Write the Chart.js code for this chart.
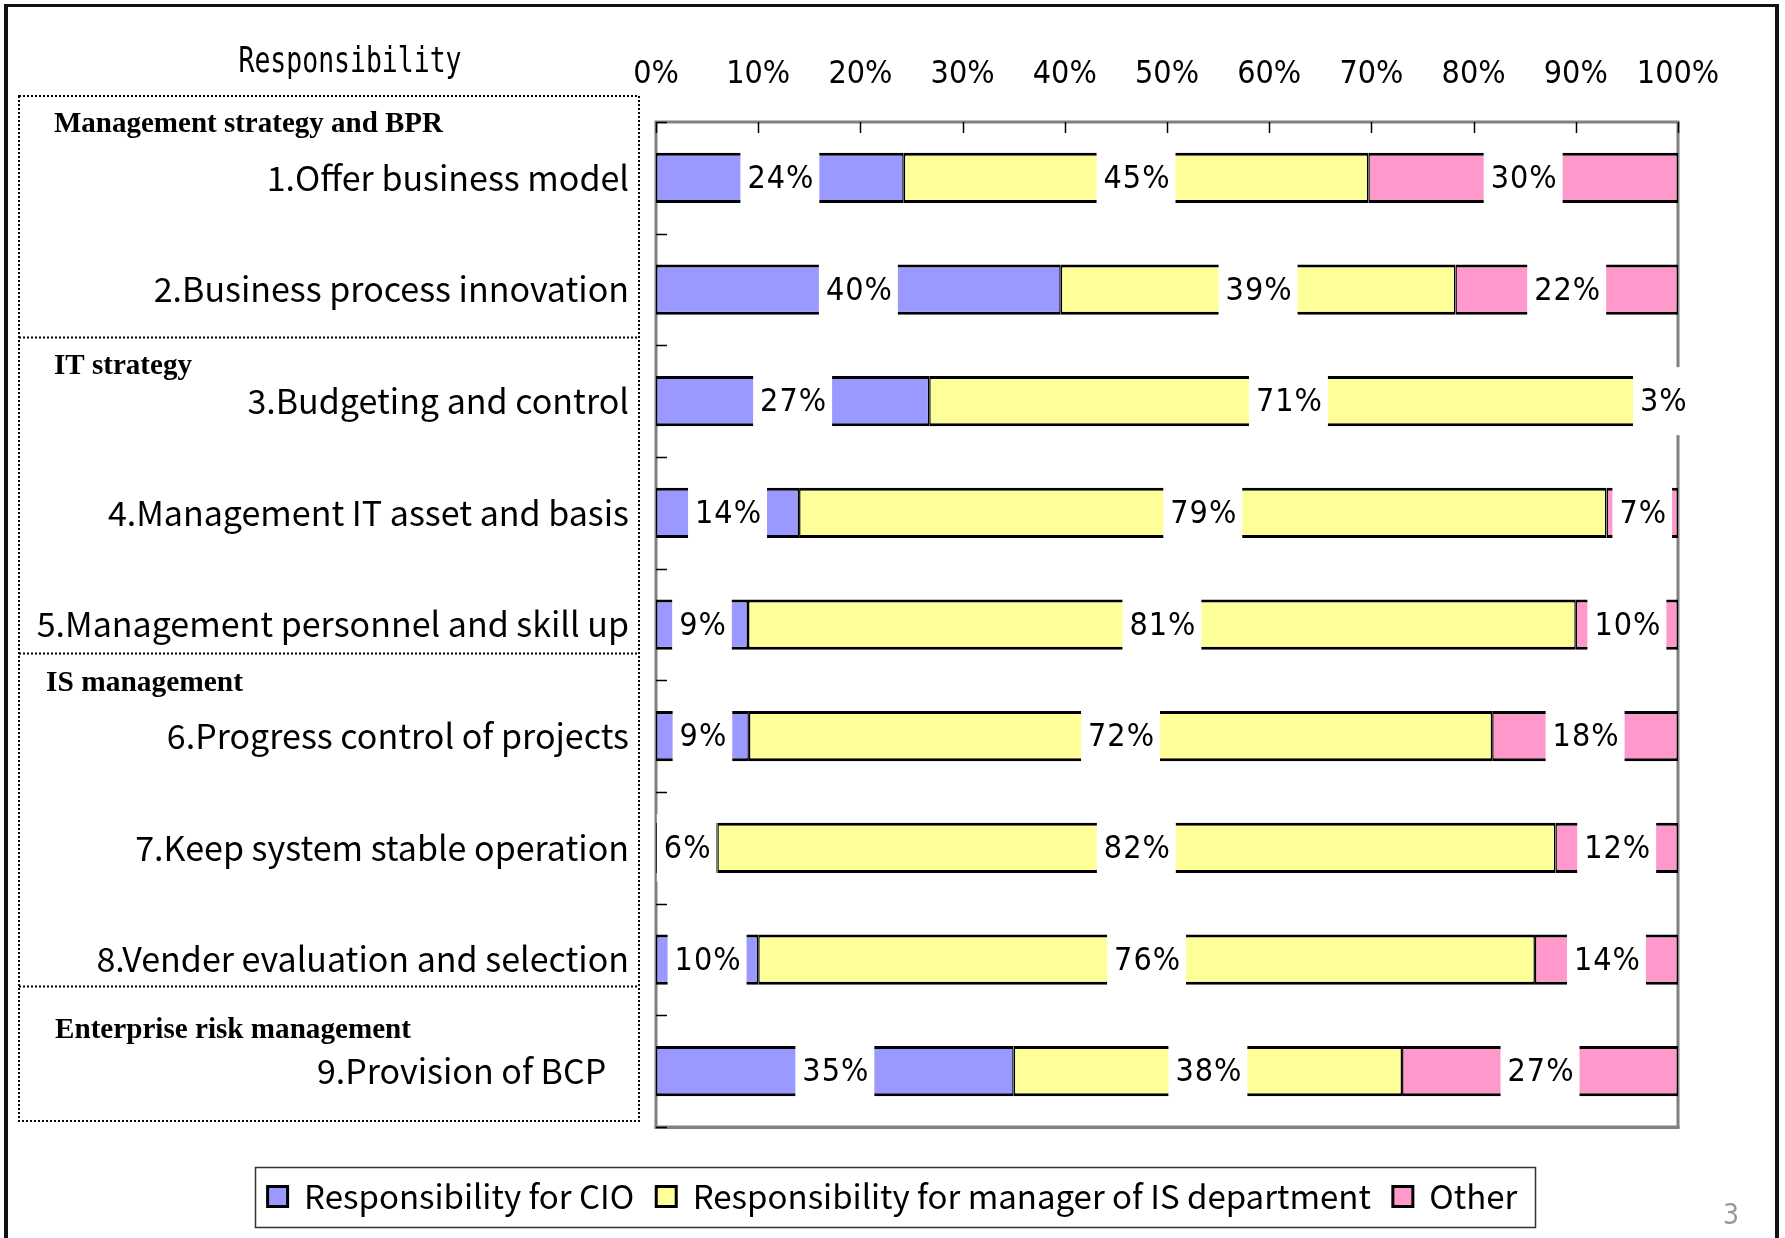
<!DOCTYPE html>
<html>
<head>
<meta charset="utf-8">
<script src="https://cdn.jsdelivr.net/npm/chart.js@4.4.1/dist/chart.umd.min.js"></script>
<style>
    html, body { margin: 0; padding: 0; background: #fff; }
    canvas { display: block; }
</style>
</head>
<body>
<canvas id="chart" width="1785" height="1238"></canvas>
<script>
// ─── DATA ────────────────────────────────────────────────────
const categories = [
    '1.Offer business model',
    '2.Business process innovation',
    '3.Budgeting and control',
    '4.Management IT asset and basis',
    '5.Management personnel and skill up',
    '6.Progress control of projects',
    '7.Keep system stable operation',
    '8.Vender evaluation and selection',
    '9.Provision of BCP   ',
];
const cioValues   = [24, 40, 27, 14,  9,  9,  6, 10, 35];
const isMgrValues = [45, 39, 71, 79, 81, 72, 82, 76, 38];
const otherValues = [30, 22,  3,  7, 10, 18, 12, 14, 27];
const seriesNames = [
    'Responsibility for CIO',
    'Responsibility for manager of IS department',
    'Other',
];
const xTicks = [0, 10, 20, 30, 40, 50, 60, 70, 80, 90, 100];

// group headers in the left box
const groupNames = ['Management strategy and BPR', 'IT strategy', 'IS management', 'Enterprise risk management'];

// ─── STYLE ───────────────────────────────────────────────────
const NARROW = "'DejaVu Sans Condensed', 'DejaVu Sans', sans-serif";
const GOTHIC = "'Noto Sans CJK JP', 'Noto Sans', sans-serif";
const SERIF  = "'Liberation Serif', 'DejaVu Serif', serif";
const COLORS = ['#9999ff', '#ffff99', '#ff99cc'];

// 100% stacked: each row is scaled to its own total
const totals = categories.map((_, i) => cioValues[i] + isMgrValues[i] + otherValues[i]);
const share  = arr => arr.map((v, i) => v * 100 / totals[i]);

// ─── PLUGINS ─────────────────────────────────────────────────

// plot frame + inward tick marks
const plotFrame = {
    id: 'plotFrame',
    beforeDatasetsDraw(chart) {
        const { ctx, chartArea: a, scales: { x, y } } = chart;
        ctx.save();
        ctx.strokeStyle = '#808080';
        ctx.lineWidth = 3;
        ctx.strokeRect(a.left, a.top, a.right - a.left, a.bottom - a.top);
        ctx.fillStyle = '#808080';
        ctx.fillRect(a.left - 1.5, a.bottom - 1, a.right - a.left + 3, 3);

        ctx.strokeStyle = '#000';
        ctx.lineWidth = 1.5;
        ctx.beginPath();
        xTicks.forEach(v => {
            const px = Math.round(x.getPixelForValue(v)) + 0.5;
            ctx.moveTo(px, a.top);
            ctx.lineTo(px, a.top + 11);
        });
        const band = (a.bottom - a.top) / categories.length;
        for (let i = 0; i <= categories.length; i++) {
            const py = Math.round(y.getPixelForValue(0) - band / 2 + i * band) + 0.5;
            ctx.moveTo(a.left, py);
            ctx.lineTo(a.left + 11, py);
        }
        ctx.stroke();
        ctx.restore();
    },
};

// Excel-like data labels on white boxes, centred in each segment
const labelBoxes = {
    id: 'labelBoxes',
    afterDatasetsDraw(chart) {
        const ctx = chart.ctx;
        ctx.save();
        ctx.font = `32px ${NARROW}`;
        ctx.letterSpacing = '1px';
        ctx.textAlign = 'center';
        ctx.textBaseline = 'middle';
        chart.data.datasets.forEach((ds, di) => {
            chart.getDatasetMeta(di).data.forEach((bar, i) => {
                const text = ds.labels[i] + '%';
                const cx = (bar.x + bar.base) / 2;
                const w = ctx.measureText(text).width + 12;
                ctx.fillStyle = '#fff';
                ctx.fillRect(cx - w / 2, bar.y - 34, w, 68);
                ctx.fillStyle = '#000';
                ctx.fillText(text, cx + 1, bar.y + 2);
            });
        });
        ctx.restore();
    },
};

// left-hand table, titles, legend frame, page number
const decorations = {
    id: 'decorations',
    afterDraw(chart) {
        const ctx = chart.ctx;
        ctx.save();

        // outer slide frame
        ctx.fillStyle = '#111';
        ctx.fillRect(4, 4, 1775, 3);
        ctx.fillRect(4, 4, 4, 1234);
        ctx.fillRect(1775, 4, 4, 1234);

        // dotted table on the left
        ctx.strokeStyle = '#000';
        ctx.lineWidth = 2;
        ctx.setLineDash([2, 2]);
        const boxL = 19, boxR = 639, boxT = 96, boxB = 1121;
        ctx.strokeRect(boxL, boxT, boxR - boxL, boxB - boxT);
        const seps = [337, 653, 986];
        ctx.beginPath();
        seps.forEach(sy => { ctx.moveTo(boxL, sy + 0.5); ctx.lineTo(boxR, sy + 0.5); });
        ctx.stroke();
        ctx.setLineDash([]);

        // group headers
        const headX = [54, 54, 46, 55];
        const headY = [124, 366, 683, 1030];
        const headW = [389, 138, 197, 356];
        ctx.fillStyle = '#000';
        ctx.font = `bold 30px ${SERIF}`;
        ctx.textAlign = 'left';
        ctx.textBaseline = 'middle';
        groupNames.forEach((g, i) => ctx.fillText(g, headX[i], headY[i], headW[i]));

        // column header
        ctx.font = `36px 'DejaVu Sans Mono', monospace`;
        ctx.textAlign = 'center';
        ctx.fillText('Responsibility', 350, 63, 223);

        // legend frame
        const boxes = chart.legend.legendHitBoxes;
        const lx0 = Math.min(...boxes.map(b => b.left)) - 13;
        const lx1 = Math.max(...boxes.map(b => b.left + b.width)) + 17;
        const ly = boxes[0].top + boxes[0].height / 2;
        ctx.strokeStyle = '#333';
        ctx.lineWidth = 1.5;
        ctx.strokeRect(Math.round(lx0) + 0.5, Math.round(ly - 30) + 0.5, Math.round(lx1 - lx0), 60);

        // page number
        ctx.fillStyle = '#999';
        ctx.font = `28px ${NARROW}`;
        ctx.fillText('3', 1731, 1217);
        ctx.restore();
    },
};

// ─── CHART ───────────────────────────────────────────────────
const barStyle = {
    borderColor: '#000',
    borderWidth: { top: 3, bottom: 3, left: 1.5, right: 1.5 },
    borderSkipped: false,
    barPercentage: 0.45,
    categoryPercentage: 1,
};

new Chart(document.getElementById('chart'), {
    type: 'bar',
    data: {
        labels: categories,
        datasets: [
            { label: seriesNames[0], data: share(cioValues),   labels: cioValues,   backgroundColor: COLORS[0], ...barStyle },
            { label: seriesNames[1], data: share(isMgrValues), labels: isMgrValues, backgroundColor: COLORS[1], ...barStyle },
            { label: seriesNames[2], data: share(otherValues), labels: otherValues, backgroundColor: COLORS[2], ...barStyle },
        ],
    },
    options: {
        indexAxis: 'y',
        responsive: false,
        animation: false,
        layout: { padding: { top: 0, left: 0, right: 0, bottom: 15 } },
        scales: {
            x: {
                position: 'top',
                stacked: true,
                min: 0,
                max: 100,
                grid: { display: false },
                border: { display: false },
                ticks: {
                    stepSize: 10,
                    maxRotation: 0,
                    padding: 20,
                    color: '#000',
                    font: { family: NARROW, size: 32 },
                    callback: v => v + '%',
                },
                afterFit: s => { s.height = 122; },
            },
            y: {
                stacked: true,
                offset: true,
                grid: { display: false },
                border: { display: false },
                ticks: {
                    autoSkip: false,
                    padding: 19,
                    color: '#000',
                    font: { family: GOTHIC, size: 34 },
                },
                afterFit: s => { s.width = 656; },
            },
            // spacer so the legend centres on the whole slide
            yRight: {
                type: 'category',
                labels: categories,
                position: 'right',
                grid: { display: false },
                border: { display: false },
                ticks: { display: false },
                afterFit: s => { s.width = 107; },
            },
        },
        plugins: {
            legend: {
                position: 'bottom',
                title: { display: true, text: '', padding: { top: 19, bottom: 0 }, font: { size: 10 } },
                labels: {
                    color: '#000',
                    font: { family: GOTHIC, size: 33 },
                    boxWidth: 20,
                    boxHeight: 20,
                    padding: 22,
                    generateLabels: chart => Chart.defaults.plugins.legend.labels
                        .generateLabels(chart)
                        .map(item => ({ ...item, lineWidth: 3, strokeStyle: '#000' })),
                },
            },
            tooltip: { enabled: false },
        },
    },
    plugins: [plotFrame, labelBoxes, decorations],
});
</script>
</body>
</html>
